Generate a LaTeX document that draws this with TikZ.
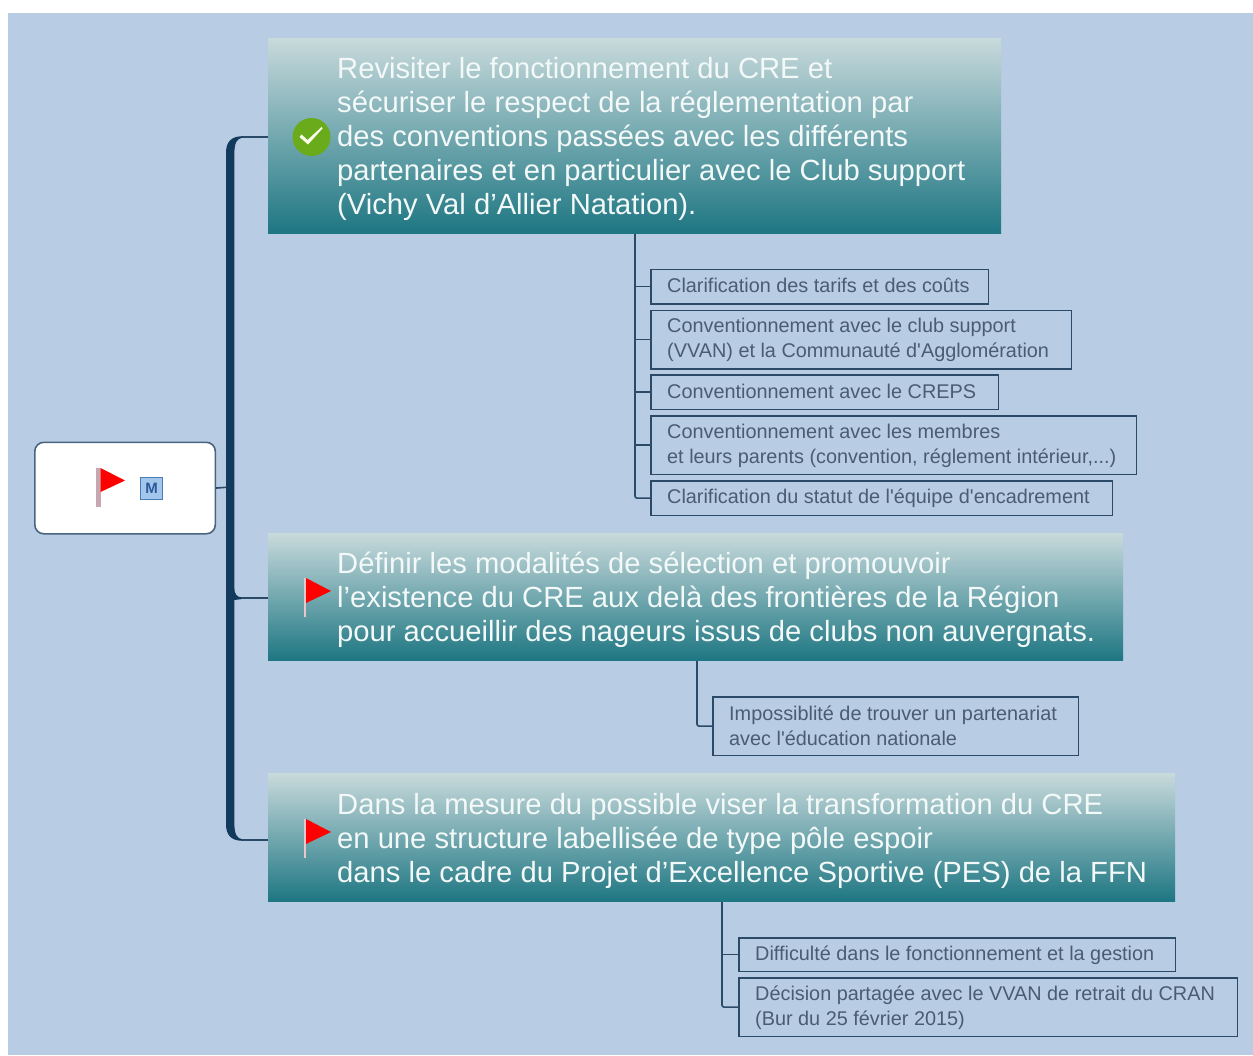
\documentclass[tikz,border=0pt]{standalone}
\usepackage{fontspec}
\setmainfont{Liberation Sans}
\newfontfamily\plainsans{Liberation Sans}
\definecolor{bgblue}{HTML}{B8CCE4}
\definecolor{trunkc}{HTML}{123A5C}
\definecolor{linec}{HTML}{2A4A68}
\definecolor{subtext}{HTML}{4A5C72}
\definecolor{toptop}{HTML}{C8DADC}
\definecolor{topbot}{HTML}{1D7682}
\definecolor{bigtext}{HTML}{F3F8F8}
\definecolor{chkgreen}{HTML}{6AAB1C}
\definecolor{mfill}{HTML}{A3C6EC}
\definecolor{mborder}{HTML}{4A7DB5}
\definecolor{mtext}{HTML}{2A5A98}
\definecolor{polec}{HTML}{C8A8B0}
\definecolor{polelight}{HTML}{E8C8C8}
\tikzset{
  topicbox/.style={anchor=north west,inner sep=0pt,top color=toptop,bottom color=topbot,draw=none},
  topictext/.style={anchor=west,inner sep=0pt,align=left,text=bigtext,font=\fontsize{29.2}{34}\selectfont},
  subbox/.style={anchor=north west,inner sep=0pt,draw=linec,line width=1.6pt},
  subtextn/.style={anchor=west,inner sep=0pt,align=left,text=subtext,font=\plainsans\fontsize{19.85}{24.6}\selectfont},
  thinline/.style={draw=linec,line width=1.6pt},
  flagred/.style={fill=red,draw=none}
}
\begin{document}
\begin{tikzpicture}[x=1pt,y=-1pt]
\useasboundingbox (0,0) rectangle (1253,1055);
\fill[white] (0,0) rectangle (1253,1055);
\fill[bgblue] (8,13) rectangle (1253,1055);

% topics
\node[topicbox,minimum width=733pt,minimum height=195.5pt] (t1) at (268,38) {};
\node[topicbox,minimum width=855pt,minimum height=127.5pt] (t2) at (268,533) {};
\node[topicbox,minimum width=907pt,minimum height=128.5pt] (t3) at (268,773) {};
\node[topictext] (tt1) at (337,139) {Revisiter le fonctionnement du CRE et\\sécuriser le respect de la réglementation par\\des conventions passées avec les différents\\partenaires et en particulier avec le Club support\\(Vichy Val d’Allier Natation).};
\node[topictext] (tt2) at (337,600) {Définir les modalités de sélection et promouvoir\\l’existence du CRE aux delà des frontières de la Région\\pour accueillir des nageurs issus de clubs non auvergnats.};
\node[topictext] (tt3) at (337,841) {Dans la mesure du possible viser la transformation du CRE\\en une structure labellisée de type pôle espoir\\dans le cadre du Projet d’Excellence Sportive (PES) de la FFN};

% root
\node[anchor=north west,draw=linec!85!white,line width=1.6pt,fill=white,rounded corners=9pt,minimum width=180.5pt,minimum height=91.5pt,inner sep=0pt] (root) at (34,441.5) {};

% sub boxes
\node[subbox,minimum width=337.5pt,minimum height=34.5pt] (s1) at (650,268.5) {};
\node[subbox,minimum width=420.5pt,minimum height=58.5pt] (s2) at (650,309.5) {};
\node[subbox,minimum width=347.5pt,minimum height=34.5pt] (s3) at (650,374) {};
\node[subbox,minimum width=485.5pt,minimum height=58.5pt] (s4) at (650,415) {};
\node[subbox,minimum width=461.5pt,minimum height=34.5pt] (s5) at (650,480) {};
\node[subbox,minimum width=365.5pt,minimum height=58.5pt] (s6) at (712,696) {};
\node[subbox,minimum width=436.5pt,minimum height=33.5pt] (s7) at (738,937) {};
\node[subbox,minimum width=498.5pt,minimum height=58.5pt] (s8) at (738,977) {};

\node[subtextn] (st1) at (667,285.5) {Clarification des tarifs et des coûts};
\node[subtextn] (st2) at (667,340) {Conventionnement avec le club support\\(VVAN) et la Communauté d'Agglomération};
\node[subtextn] (st3) at (667,391) {Conventionnement avec le CREPS};
\node[subtextn] (st4) at (667,446) {Conventionnement avec les membres\\et leurs parents (convention, réglement intérieur,...)};
\node[subtextn] (st5) at (667,498.5) {Clarification du statut de l'équipe d'encadrement};
\node[subtextn] (st6) at (729,725.5) {Impossiblité de trouver un partenariat\\avec l'éducation nationale};
\node[subtextn] (st7) at (755,955) {Difficulté dans le fonctionnement et la gestion};
\node[subtextn] (st8) at (755,1008) {Décision partagée avec le VVAN de retrait du CRAN\\(Bur du 25 février 2015)};

% sub connectors
\coordinate (c1) at (635,234);
\coordinate (c2) at (697,661);
\coordinate (c3) at (722,902);
\draw[thinline,rounded corners=2pt] (c1) |- (s5.west);
\draw[thinline] (s1.west) -- (s1.west -| c1);
\draw[thinline] (s2.west) -- (s2.west -| c1);
\draw[thinline] (s3.west) -- (s3.west -| c1);
\draw[thinline] (s4.west) -- (s4.west -| c1);
\draw[thinline,rounded corners=2pt] (c2) |- (s6.west);
\draw[thinline,rounded corners=2pt] (c3) |- (s8.west);
\draw[thinline] (s7.west) -- (s7.west -| c3);

% trunk
\coordinate (tr) at (230,487);
\coordinate (j1) at (242,137);
\coordinate (j2) at (240,598);
\coordinate (j3) at (242,840);
\draw[thinline] (j1 -| t1.west) -- (j1);
\draw[thinline] (j2 -| t2.west) -- (j2);
\draw[thinline] (j3 -| t3.west) -- (j3);
\draw[thinline] (root.east) -- (tr);
\fill[trunkc] (226,153) .. controls (226,142) and (231,136.5) .. (242,136.2)
  -- (242,137.8) .. controls (237,138.5) and (234.4,143) .. (234.4,153)
  -- (234.4,824) .. controls (234.4,834) and (237,838.5) .. (242,839.2)
  -- (242,840.8) .. controls (231,840.5) and (226,835) .. (226,824) -- cycle;
\fill[trunkc] (234,588) .. controls (234.5,594) and (237,597) .. (241,597.3) -- (241,599.2) -- (234,600) -- cycle;

% check icon
\node[circle,fill=chkgreen,minimum size=38pt,inner sep=0pt] (chk) at (311.5,137) {};
\fill[white!92!lime] (299.5,137) -- (301.5,134.5) -- (307.5,140) -- (321.5,127) -- (322.5,128.5) -- (308,144.5) -- cycle;

% root flag
\fill[polec] (96,468) rectangle (100.5,507);
\fill[flagred] (100.5,468) -- (125,480.5) -- (100.5,492) -- cycle;
% M icon
\node[anchor=north west,draw=mborder,fill=mfill,line width=1.2pt,minimum size=22pt,inner sep=0pt,text=mtext,font=\bfseries\fontsize{15}{15}\selectfont] (mi) at (140,476.5) {M};

% flag 2
\fill[polelight] (303.5,578) rectangle (306,617);
\fill[flagred] (306,578) -- (331,591) -- (306,603) -- cycle;
% flag 3
\fill[polelight] (303.5,819) rectangle (306,858);
\fill[flagred] (306,819) -- (331,832) -- (306,844) -- cycle;
\end{tikzpicture}
\end{document}
